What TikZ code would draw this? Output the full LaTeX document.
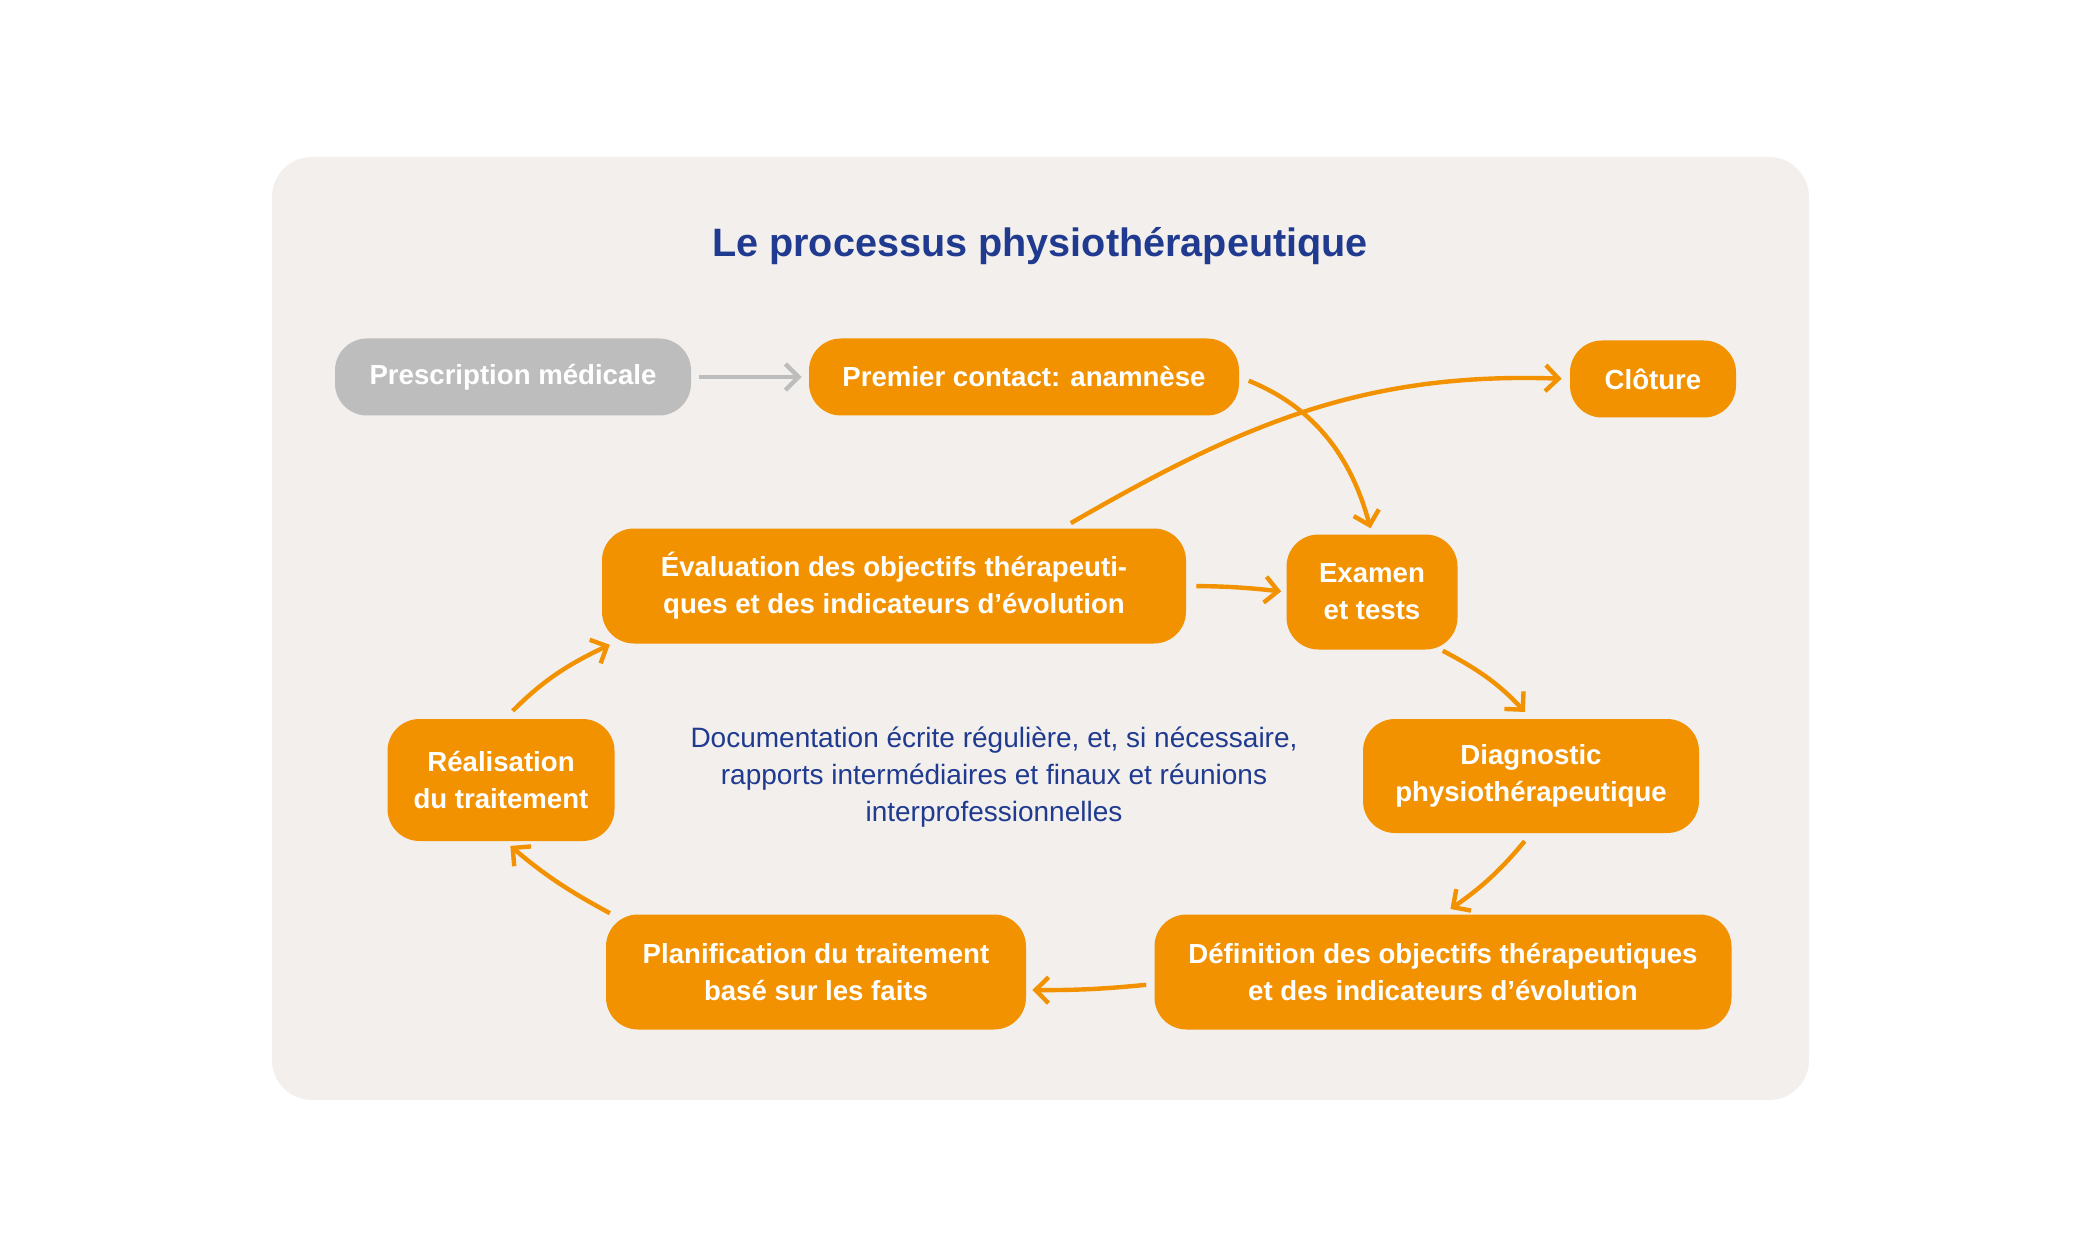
\documentclass[tikz,border=0pt]{standalone}
\usepackage{fontspec}
\setmainfont{Liberation Sans}
\usetikzlibrary{arrows.meta}
\definecolor{physioorange}{HTML}{F39200}
\definecolor{physiogrey}{HTML}{BDBDBD}
\definecolor{physioblue}{HTML}{1F3A8F}
\definecolor{physiobg}{HTML}{F2EFEC}
\tikzset{
  stepbox/.style={fill=physioorange, text=white, rounded corners=16pt, align=center,
    inner sep=0pt, minimum height=57.5pt, font=\fontsize{13.8}{18.6}\selectfont\bfseries},
  greybox/.style={stepbox, fill=physiogrey},
  flow/.style={draw=physioorange, line width=2.2pt, -{Straight Barb[length=6.5pt,width=13pt]}},
  greyflow/.style={flow, draw=physiogrey},
}
\begin{document}
\begin{tikzpicture}[x=0.5pt, y=0.5pt]
  \useasboundingbox (0,0) rectangle (2083,1250);
  \fill[physiobg, rounded corners=20pt] (272,150) rectangle (1809,1093);

  \node[text=physioblue, font=\fontsize{19.8}{24}\selectfont\bfseries] (title) at (1040,1004)
    {Le processus physiothérapeutique};

  % top row
  \node[greybox, minimum width=178pt, minimum height=38.5pt] (presc) at (513,873) {Prescription médicale};
  \node[stepbox, minimum width=215pt, minimum height=38.5pt] (premier) at (1024,873) {Premier contact: anamnèse};
  \node[stepbox, minimum width=83pt, minimum height=38.5pt] (cloture) at (1653,871) {Clôture};

  % cycle
  \node[stepbox, minimum width=292pt] (evalu) at (894,664)
    {Évaluation des objectifs thérapeuti-\\ques et des indicateurs d’évolution};
  \node[stepbox, minimum width=85.5pt] (examen) at (1372,658) {Examen\\et tests};
  \node[stepbox, minimum width=168pt, minimum height=57pt] (diag) at (1531,474)
    {Diagnostic\\physiothérapeutique};
  \node[stepbox, minimum width=288.5pt] (defin) at (1443,278)
    {Définition des objectifs thérapeutiques\\et des indicateurs d’évolution};
  \node[stepbox, minimum width=210pt] (planif) at (816,278)
    {Planification du traitement\\basé sur les faits};
  \node[stepbox, minimum width=113.5pt, minimum height=61pt] (realis) at (501,470)
    {Réalisation\\du traitement};

  \node[text=physioblue, align=center, font=\fontsize{14}{18.5}\selectfont] (doc) at (994,473)
    {Documentation écrite régulière, et, si nécessaire,\\rapports intermédiaires et finaux et réunions\\interprofessionnelles};

  % connectors
  \draw[greyflow, shorten <=4pt, shorten >=3.5pt] (presc) -- (premier);
  \draw[flow, shorten <=5pt, shorten >=3pt] (premier.east) to[out=-22, in=105] (examen.north);
  \draw[flow, shorten <=5pt, shorten >=4pt] (evalu.19.5) to[out=30, in=178] (cloture.west);
  \draw[flow, shorten <=5pt, shorten >=2.5pt] (evalu.east) to[bend left=3] (examen.west);
  \draw[flow, shorten <=1pt, shorten >=4.5pt] (examen.-40) to[bend left=10] (diag.north);
  \draw[flow, shorten <=5pt, shorten >=4.5pt] (diag.south) to[bend left=8] (defin.north);
  \draw[flow, shorten <=4pt, shorten >=3pt] ([yshift=-6pt]defin.west) to[bend left=3] ([yshift=-9pt]planif.east);
  \draw[flow, shorten <=1pt, shorten >=3.5pt] ([xshift=3pt]planif.north west) to[bend left=6] ([xshift=2pt]realis.south);
  \draw[flow, shorten <=5.5pt, shorten >=1pt] ([xshift=2pt]realis.north) to[bend left=10] ([xshift=5pt]evalu.south west);
\end{tikzpicture}
\end{document}
